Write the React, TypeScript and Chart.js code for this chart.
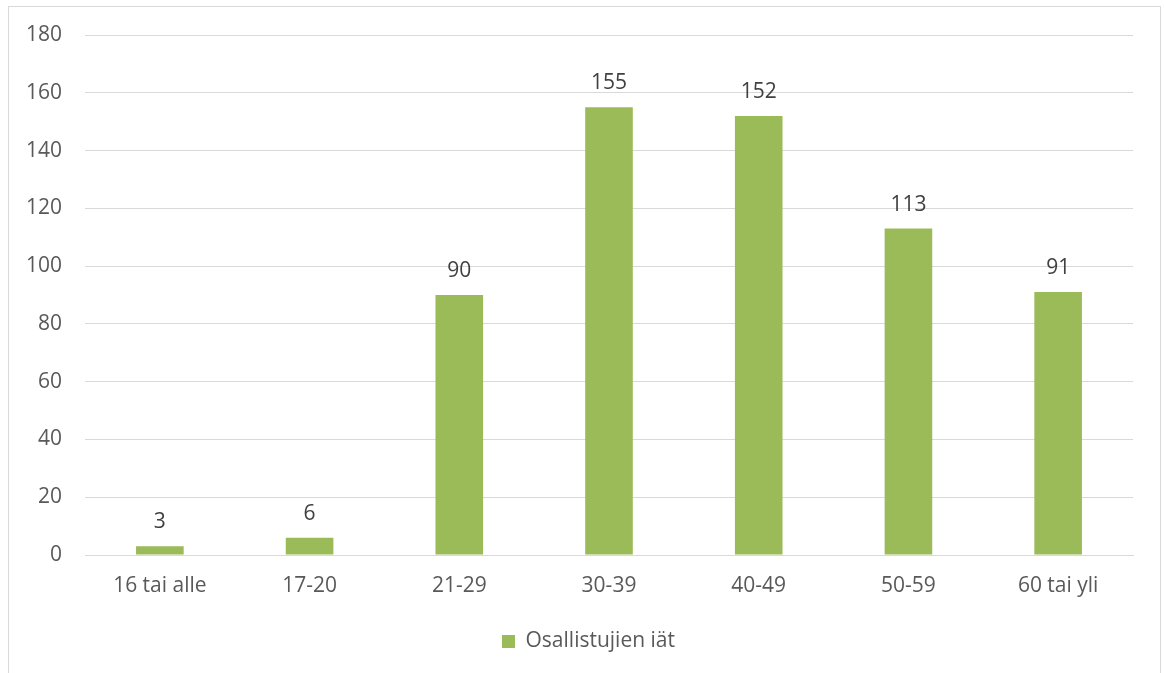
import React, { useEffect, useRef } from "react";
import { Chart, registerables } from "chart.js";

Chart.register(...registerables);

const categories = ["16 tai alle", "17-20", "21-29", "30-39", "40-49", "50-59", "60 tai yli"];
const values = [3, 6, 90, 155, 152, 113, 91];
const seriesLabel = "Osallistujien iät";

const GREEN = "#9bbb59";
const TEXT = "#595959";
const GRID = "#d9d9d9";
const FONT = "'Open Sans', 'Noto Sans', sans-serif";
const FS = 21;

const dataLabels = {
  id: "dataLabels",
  afterDatasetsDraw(chart: any) {
    const ctx = chart.ctx;
    const meta = chart.getDatasetMeta(0);
    ctx.save();
    ctx.fillStyle = "#404040";
    ctx.font = `${FS}px ${FONT}`;
    ctx.textAlign = "center";
    ctx.textBaseline = "alphabetic";
    meta.data.forEach((bar: any, i: number) => {
      ctx.fillText(String(chart.data.datasets[0].data[i]), bar.x, bar.y - 18);
    });
    ctx.restore();
  },
};

export default function App() {
  const ref = useRef<HTMLCanvasElement>(null);
  useEffect(() => {
    if (!ref.current) return;
    const chart = new Chart(ref.current, {
      type: "bar",
      data: {
        labels: categories,
        datasets: [
          {
            label: seriesLabel,
            data: values,
            backgroundColor: GREEN,
            borderWidth: 0,
            categoryPercentage: 1,
            barPercentage: 0.318,
          },
        ],
      },
      options: {
        responsive: false,
        animation: false,
        layout: { padding: { left: 8, right: 0, top: 28, bottom: 11 } },
        plugins: {
          tooltip: { enabled: false },
          legend: {
            position: "bottom",
            labels: {
              boxWidth: 13,
              boxHeight: 13,
              color: TEXT,
              font: { family: FONT, size: FS },
              padding: 10,
            },
          },
        },
        scales: {
          x: {
            grid: { display: false, drawTicks: false },
            border: { color: GRID },
            ticks: { color: TEXT, font: { family: FONT, size: FS }, padding: 18 },
            afterFit(scale: any) {
              scale.height = 66;
            },
          },
          y: {
            min: 0,
            max: 180,
            grid: { color: GRID, drawTicks: false },
            border: { display: false },
            ticks: { stepSize: 20, color: TEXT, font: { family: FONT, size: FS }, padding: 23 },
            afterFit(scale: any) {
              scale.width = 68;
              scale.paddingTop = 0;
            },
          },
          yRight: {
            position: "right",
            grid: { display: false, drawTicks: false },
            border: { display: false },
            ticks: { display: false },
            afterFit(scale: any) {
              scale.width = 27;
              scale.paddingTop = 0;
            },
          },
        },
      },
      plugins: [dataLabels],
    });
    return () => chart.destroy();
  }, []);
  return (
    <div
      style={{
        position: "absolute",
        left: 8,
        top: 6,
        width: 1153,
        height: 690,
        border: "1px solid #d9d9d9",
        boxSizing: "border-box",
        background: "#fff",
      }}
    >
      <canvas ref={ref} width={1151} height={666} style={{ display: "block" }} />
    </div>
  );
}
